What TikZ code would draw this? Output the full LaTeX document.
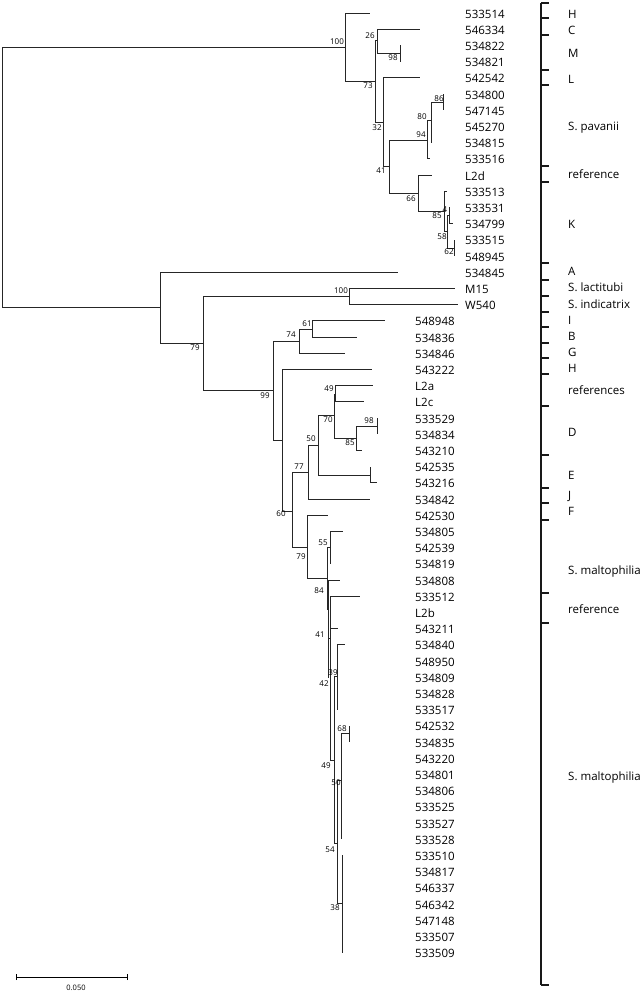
\documentclass[tikz,border=0pt]{standalone}
\usepackage{fontspec}
\setmainfont{Open Sans}
\begin{document}
\begin{tikzpicture}[x=1pt,y=-1pt,
  br/.style={line width=1pt, draw=black!85},
  lab/.style={anchor=base west, inner sep=0pt, font=\fontsize{11.5}{12}\selectfont},
  bs/.style={inner sep=0pt, font=\fontsize{8}{9}\selectfont},
  brk/.style={line width=2pt, draw=black!90},
  tick/.style={line width=1.5pt, draw=black!90}]
\useasboundingbox (0,0) rectangle (641,991);
% ---------- upper clade ----------
\coordinate (root) at (2,177);
\coordinate (n100) at (345,47);
\coordinate (n73) at (375,81);
\coordinate (n26) at (377,40.5);
\coordinate (n98) at (400,53.5);
\coordinate (n32) at (383,122);
\coordinate (n41) at (389,166);
\coordinate (n94) at (427,140);
\coordinate (n80) at (431,120);
\coordinate (n86) at (443,102);
\coordinate (n66) at (418,193);
\coordinate (n85) at (444,211);
\coordinate (n58) at (447,231.5);
\coordinate (n4) at (449,215.5);
\coordinate (n62) at (454,248);
\coordinate (t0) at (370,13);
\coordinate (t1) at (420,29.2);
\coordinate (t2) at (400,45.4);
\coordinate (t3) at (400,61.6);
\coordinate (t4) at (420,77.8);
\coordinate (t5) at (443,94);
\coordinate (t6) at (443,110.2);
\coordinate (t7) at (431,126.4);
\coordinate (t8) at (431,142.6);
\coordinate (t9) at (430,158.8);
\coordinate (t10) at (432,175);
\coordinate (t11) at (447,191.2);
\coordinate (t12) at (449,207.4);
\coordinate (t13) at (453,223.6);
\coordinate (t14) at (454,239.8);
\coordinate (t15) at (454,256);
% ---------- middle ----------
\coordinate (n160) at (160,307);
\coordinate (n79) at (203,343);
\coordinate (n100b) at (349,296.5);
\coordinate (n99) at (273,390);
\coordinate (n74) at (299,341);
\coordinate (n61) at (312,329);
\coordinate (n282) at (282,440);
\coordinate (n60) at (292,511);
\coordinate (n77) at (308,472);
\coordinate (n50) at (318,445);
\coordinate (nE) at (370,475);
\coordinate (n70) at (334,415);
\coordinate (n49) at (335.5,394);
\coordinate (n85b) at (356,438);
\coordinate (n98b) at (377,426);
\coordinate (n79b) at (307,547);
\coordinate (n84) at (327,578);
\coordinate (n55) at (330,547);
\coordinate (t16) at (398,272.2);
\coordinate (t17) at (455,288.4);
\coordinate (t18) at (458,304.6);
\coordinate (t19) at (385,320.8);
\coordinate (t20) at (357,337);
\coordinate (t21) at (345,353.2);
\coordinate (t22) at (372,369.4);
\coordinate (t23) at (373,385.6);
\coordinate (t24) at (364,401.8);
\coordinate (t25) at (377,418);
\coordinate (t26) at (377,434.2);
\coordinate (t27) at (362,450.4);
\coordinate (t28) at (370,466.6);
\coordinate (t29) at (377,482.8);
\coordinate (t30) at (370,499);
\coordinate (t31) at (328,515.2);
\coordinate (t32) at (343,531.4);
\coordinate (t33) at (330,547.6);
\coordinate (t34) at (330,563.8);
% ---------- lower clade ----------
\coordinate (nA) at (328,609);
\coordinate (nAb) at (328,678);
\coordinate (nB) at (330.5,638);
\coordinate (nC) at (334,760);
\coordinate (n39) at (337,676);
\coordinate (n54) at (337,843);
\coordinate (n50b) at (341,780);
\coordinate (n68) at (349,733);
\coordinate (n38) at (342,903);
\coordinate (t35) at (340,580);
\coordinate (t36) at (360,596.2);
\coordinate (t37) at (330.5,612.4);
\coordinate (t38) at (338,628.6);
\coordinate (t39) at (345,644.8);
\coordinate (t43) at (337,709.6);
\coordinate (t44) at (349,725.8);
\coordinate (t45) at (349,742);
\coordinate (t51) at (341,839.2);
\coordinate (t52) at (342,855.4);
\coordinate (t58) at (342,952.6);
% ---------- branches ----------
\foreach \a/\b in {root/n100,root/n160,n100/t0,n100/n73,n73/n26,n73/n32,n26/t1,n26/n98,n98/t2,n98/t3,
  n32/t4,n32/n41,n41/n94,n41/n66,n94/n80,n94/t9,n80/n86,n80/t7,n80/t8,n86/t5,n86/t6,n66/t10,n66/n85,
  n85/t11,n85/n58,n58/n4,n58/n62,n4/t12,n4/t13,n62/t14,n62/t15,
  n160/t16,n160/n79,n79/n100b,n79/n99,n100b/t17,n100b/t18,n99/n74,n99/n282,n74/n61,n74/t21,n61/t19,n61/t20,
  n282/t22,n282/n60,n60/n77,n60/n79b,n77/n50,n77/t30,n50/n70,n50/nE,nE/t28,nE/t29,n70/n49,n70/n85b,
  n49/t23,n49/t24,n85b/n98b,n85b/t27,n98b/t25,n98b/t26,n79b/t31,n79b/n84,n84/n55,n84/nA,n55/t32,n55/t33,n55/t34,
  nA/t35,nA/nAb,nA/nB,nB/t36,nB/t37,nB/t38,nB/nC,nC/n39,nC/n54,n39/t39,n39/t43,n54/n50b,n54/n38,
  n50b/n68,n50b/t51,n68/t44,n68/t45,n38/t52,n38/t58}
  \draw[br] (\a) |- (\b);
% ---------- bootstrap values ----------
\node[bs] (b1) at (337,42) {100};
\node[bs] (b2) at (370,36) {26};
\node[bs] (b3) at (393,58) {98};
\node[bs] (b4) at (368,86) {73};
\node[bs] (b5) at (439,99) {86};
\node[bs] (b6) at (422,117) {80};
\node[bs] (b7) at (377,128) {32};
\node[bs] (b8) at (421,135) {94};
\node[bs] (b9) at (381,171) {41};
\node[bs] (b10) at (411,199) {66};
\node[bs] (b11) at (437,216) {85};
\node[bs] (b12) at (445,210) {4};
\node[bs] (b13) at (442,237) {58};
\node[bs] (b14) at (449,252) {62};
\node[bs] (b15) at (341,291) {100};
\node[bs] (b16) at (195,348) {79};
\node[bs] (b17) at (307,324) {61};
\node[bs] (b18) at (291,335) {74};
\node[bs] (b19) at (265,396) {99};
\node[bs] (b20) at (329,389) {49};
\node[bs] (b21) at (328,420) {70};
\node[bs] (b22) at (369,421) {98};
\node[bs] (b23) at (350,443) {85};
\node[bs] (b24) at (311,439) {50};
\node[bs] (b25) at (299,467) {77};
\node[bs] (b26) at (281,514) {60};
\node[bs] (b27) at (301,557) {79};
\node[bs] (b28) at (323,543) {55};
\node[bs] (b29) at (319,591) {84};
\node[bs] (b30) at (320,635) {41};
\node[bs] (b31) at (333,673) {39};
\node[bs] (b32) at (324,684) {42};
\node[bs] (b33) at (342,729) {68};
\node[bs] (b34) at (326,766) {49};
\node[bs] (b35) at (336,783) {50};
\node[bs] (b36) at (330,850) {54};
\node[bs] (b37) at (335,908) {38};
% ---------- leaf labels ----------
\foreach \i/\t in {0/533514,1/546334,2/534822,3/534821,4/542542,5/534800,6/547145,7/545270,8/534815,9/533516,
  10/L2d,11/533513,12/533531,13/534799,14/533515,15/548945,16/534845,17/M15,18/W540}
  \node[lab] (lf\i) at (465,{13+16.2*\i+5}) {\t};
\foreach \i/\t in {19/548948,20/534836,21/534846,22/543222,23/L2a,24/L2c,25/533529,26/534834,27/543210,
  28/542535,29/543216,30/534842,31/542530,32/534805,33/542539,34/534819,35/534808,36/533512,37/L2b,
  38/543211,39/534840,40/548950,41/534809,42/534828,43/533517,44/542532,45/534835,46/543220,47/534801,
  48/534806,49/533525,50/533527,51/533528,52/533510,53/534817,54/546337,55/546342,56/547148,57/533507,58/533509}
  \node[lab] (lf\i) at (415,{13+16.2*\i+5}) {\t};
% ---------- bracket ----------
\coordinate (bt) at (541,3);
\coordinate (bb) at (541,985);
\draw[brk] (bt) -- (bb);
\foreach \y in {3,18,35,70,85,166,182,263,280,296,312,327,343,358,374,406,455,488,503,520,593,623,985}
  \draw[tick] (541,\y) -- (549,\y);
\foreach \y/\t [count=\k] in {14/H,30/C,53/M,79/L,126/S. pavanii,174/reference,224/K,271/A,287/S. lactitubi,
  304/S. indicatrix,320/I,336/B,352/G,368/H,390/references,432/D,475/E,495/J,511/F,570/S. maltophilia,
  609/reference,776/S. maltophilia}
  \node[lab] (g\k) at (568,\y+4.2) {\t};
% ---------- scale bar ----------
\coordinate (s1) at (16,977);
\coordinate (s2) at (127,977);
\draw[line width=0.9pt] (s1) -- (s2);
\draw[line width=0.9pt] ([yshift=-3pt]s1) -- ([yshift=3pt]s1);
\draw[line width=0.9pt] ([yshift=-3pt]s2) -- ([yshift=3pt]s2);
\node[inner sep=0pt, font=\fontsize{7.5}{8}\selectfont] (sl) at (76,988) {0.050};
\end{tikzpicture}
\end{document}
